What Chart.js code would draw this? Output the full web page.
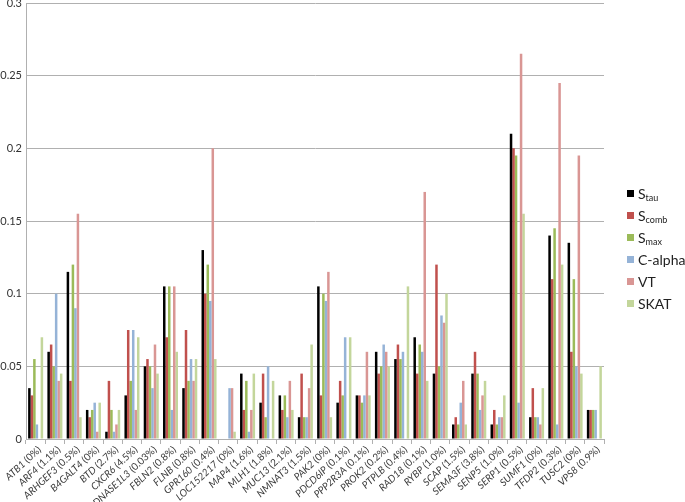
<!DOCTYPE html>
<html>
<head>
<meta charset="utf-8">
<script src="https://cdn.jsdelivr.net/npm/chart.js@4.4.0/dist/chart.umd.min.js"></script>
<style>
  html, body { margin: 0; padding: 0; background: #fff; }
  #wrap { width: 685px; height: 502px; position: relative; }
</style>
</head>
<body>
<div id="wrap"><canvas id="chart"></canvas></div>
<script>
// genes and their frequency labels
const genes = ['ATB1', 'ARF4', 'ARHGEF3', 'B4GALT4', 'BTD', 'CXCR6', 'DNASE1L3', 'FBLN2', 'FLNB', 'GPR160',
  'LOC152217', 'MAP4', 'MLH1', 'MUC13', 'NMNAT3', 'PAK2', 'PDCD6IP', 'PPP2R3A', 'PROK2', 'PTPLB',
  'RAD18', 'RYBP', 'SCAP', 'SEMA3F', 'SENP5', 'SERP1', 'SUMF1', 'TFDP2', 'TUSC2', 'VPS8'];
const pcts = ['(0%)', '(1.1%)', '(0.5%)', '(0%)', '(2.7%)', '(4.5%)', '(0.03%)', '(0.8%)', '(0.8%)', '(0.4%)',
  ' (0%)', '(1.6%)', '(1.8%)', '(2.1%)', '(1.5%)', '(0%)', '(0.1%)', '(0.1%)', '(0.2%)', '(0.4%)',
  '(0.1%)', '(1.0%)', '(1.5%)', '(3.8%)', '(1.0%)', '(0.5%)', '(0%)', '(0.3%)', '(0%)', '(0.9%)'];

const sTau   = [0.035, 0.06, 0.115, 0.02, 0.005, 0.03, 0.05, 0.105, 0.035, 0.13, 0, 0.045, 0.025, 0.03, 0.015, 0.105, 0.025, 0.03, 0.06, 0.055, 0.07, 0.045, 0.01, 0.045, 0.01, 0.21, 0.015, 0.14, 0.135, 0.02];
const sComb  = [0.03, 0.065, 0.04, 0.015, 0.04, 0.075, 0.055, 0.07, 0.075, 0.1, 0, 0.02, 0.045, 0.02, 0.045, 0.03, 0.04, 0.03, 0.045, 0.065, 0.045, 0.12, 0.015, 0.06, 0.02, 0.2, 0.035, 0.11, 0.06, 0.02];
const sMax   = [0.055, 0.05, 0.12, 0.02, 0.02, 0.04, 0.05, 0.105, 0.04, 0.12, 0, 0.04, 0.015, 0.03, 0.015, 0.1, 0.03, 0.025, 0.05, 0.055, 0.065, 0.05, 0.01, 0.045, 0.01, 0.195, 0.015, 0.145, 0.11, 0.02];
const cAlpha = [0.01, 0.1, 0.09, 0.025, 0.005, 0.075, 0.035, 0.02, 0.055, 0.095, 0.035, 0.005, 0.05, 0.015, 0.015, 0.095, 0.07, 0.03, 0.065, 0.06, 0.06, 0.085, 0.025, 0.02, 0.015, 0.025, 0.015, 0.01, 0.05, 0.02];
const vt     = [0, 0.04, 0.155, 0.005, 0.01, 0.02, 0.065, 0.105, 0.04, 0.2, 0.035, 0.02, 0, 0.04, 0.035, 0.115, 0, 0.06, 0.06, 0, 0.17, 0.08, 0.04, 0.03, 0.015, 0.265, 0.01, 0.245, 0.195, 0];
const skat   = [0.07, 0.045, 0.015, 0.025, 0.02, 0.07, 0.045, 0.06, 0.055, 0.055, 0.005, 0.045, 0.04, 0.02, 0.065, 0.015, 0.07, 0.03, 0.05, 0.105, 0.04, 0.1, 0.01, 0.04, 0.03, 0.155, 0.035, 0.12, 0.045, 0.05];

const seriesMain = ['S', 'S', 'S', 'C-alpha', 'VT', 'SKAT'];
const seriesSub  = ['tau', 'comb', 'max', '', '', ''];
const colors = ['#000000', '#C0504D', '#9BBB59', '#95B3D7', '#D99694', '#C3D69B'];
const yTicks = [0, 0.05, 0.1, 0.15, 0.2, 0.25, 0.3];

const FONT = 'Lato, "Open Sans", sans-serif';

// gene names italic, percentages upright, rotated 45°
const geneLabels = {
  id: 'geneLabels',
  afterDraw(chart) {
    const ctx = chart.ctx, xs = chart.scales.x, bottom = chart.chartArea.bottom;
    ctx.save();
    ctx.fillStyle = '#3a3a3a';
    ctx.textBaseline = 'middle';
    genes.forEach((g, i) => {
      const x = xs.getPixelForValue(i);
      ctx.save();
      ctx.translate(x + 4, bottom + 9);
      ctx.rotate(-Math.PI / 4.2);
      ctx.textAlign = 'right';
      ctx.font = '10px ' + FONT;
      const p = ' ' + pcts[i].trim();
      const w = ctx.measureText(p).width;
      ctx.fillText(p, 0, 0);
      ctx.font = 'italic 10px ' + FONT;
      ctx.fillText(g, -w, 0);
      ctx.restore();
    });
    ctx.restore();
  }
};

// legend on the right with subscripts
const sideLegend = {
  id: 'sideLegend',
  afterDraw(chart) {
    const ctx = chart.ctx;
    ctx.save();
    ctx.textBaseline = 'middle';
    ctx.textAlign = 'left';
    seriesMain.forEach((m, i) => {
      const y = 194 + i * 22;
      ctx.fillStyle = colors[i];
      ctx.fillRect(627, y - 4, 7, 7);
      ctx.fillStyle = '#222';
      ctx.font = '14px ' + FONT;
      ctx.fillText(m, 638, y);
      if (seriesSub[i]) {
        const w = ctx.measureText(m).width;
        ctx.font = '9px ' + FONT;
        ctx.fillText(seriesSub[i], 638 + w, y + 4);
      }
    });
    ctx.restore();
  }
};

const seriesData = [sTau, sComb, sMax, cAlpha, vt, skat];

new Chart(document.getElementById('chart'), {
  type: 'bar',
  data: {
    labels: genes.map((g, i) => g + ' ' + pcts[i]),
    datasets: seriesData.map((d, i) => ({
      label: seriesMain[i] + seriesSub[i],
      data: d,
      backgroundColor: colors[i],
      borderWidth: 0,
      barPercentage: 1,
      categoryPercentage: 0.78
    }))
  },
  options: {
    responsive: true,
    maintainAspectRatio: false,
    animation: false,
    layout: { padding: { top: 3, right: 81, bottom: 58, left: 0 } },
    plugins: { legend: { display: false }, tooltip: { enabled: false } },
    scales: {
      x: {
        offset: true,
        grid: { offset: true, drawOnChartArea: false, drawTicks: true, tickLength: 5, color: '#b0b0b0' },
        border: { color: '#b0b0b0' },
        ticks: { display: false }
      },
      y: {
        min: 0,
        max: 0.3,
        afterBuildTicks: s => { s.ticks = yTicks.map(v => ({ value: v })); },
        afterFit: s => { s.width = 26; s.paddingTop = 0; s.paddingBottom = 0; },
        grid: { color: '#b0b0b0', drawTicks: false },
        border: { color: '#b0b0b0' },
        ticks: { color: '#333', font: { family: FONT, size: 11 }, padding: 4, callback: v => String(v) }
      }
    }
  },
  plugins: [geneLabels, sideLegend]
});
</script>
</body>
</html>
